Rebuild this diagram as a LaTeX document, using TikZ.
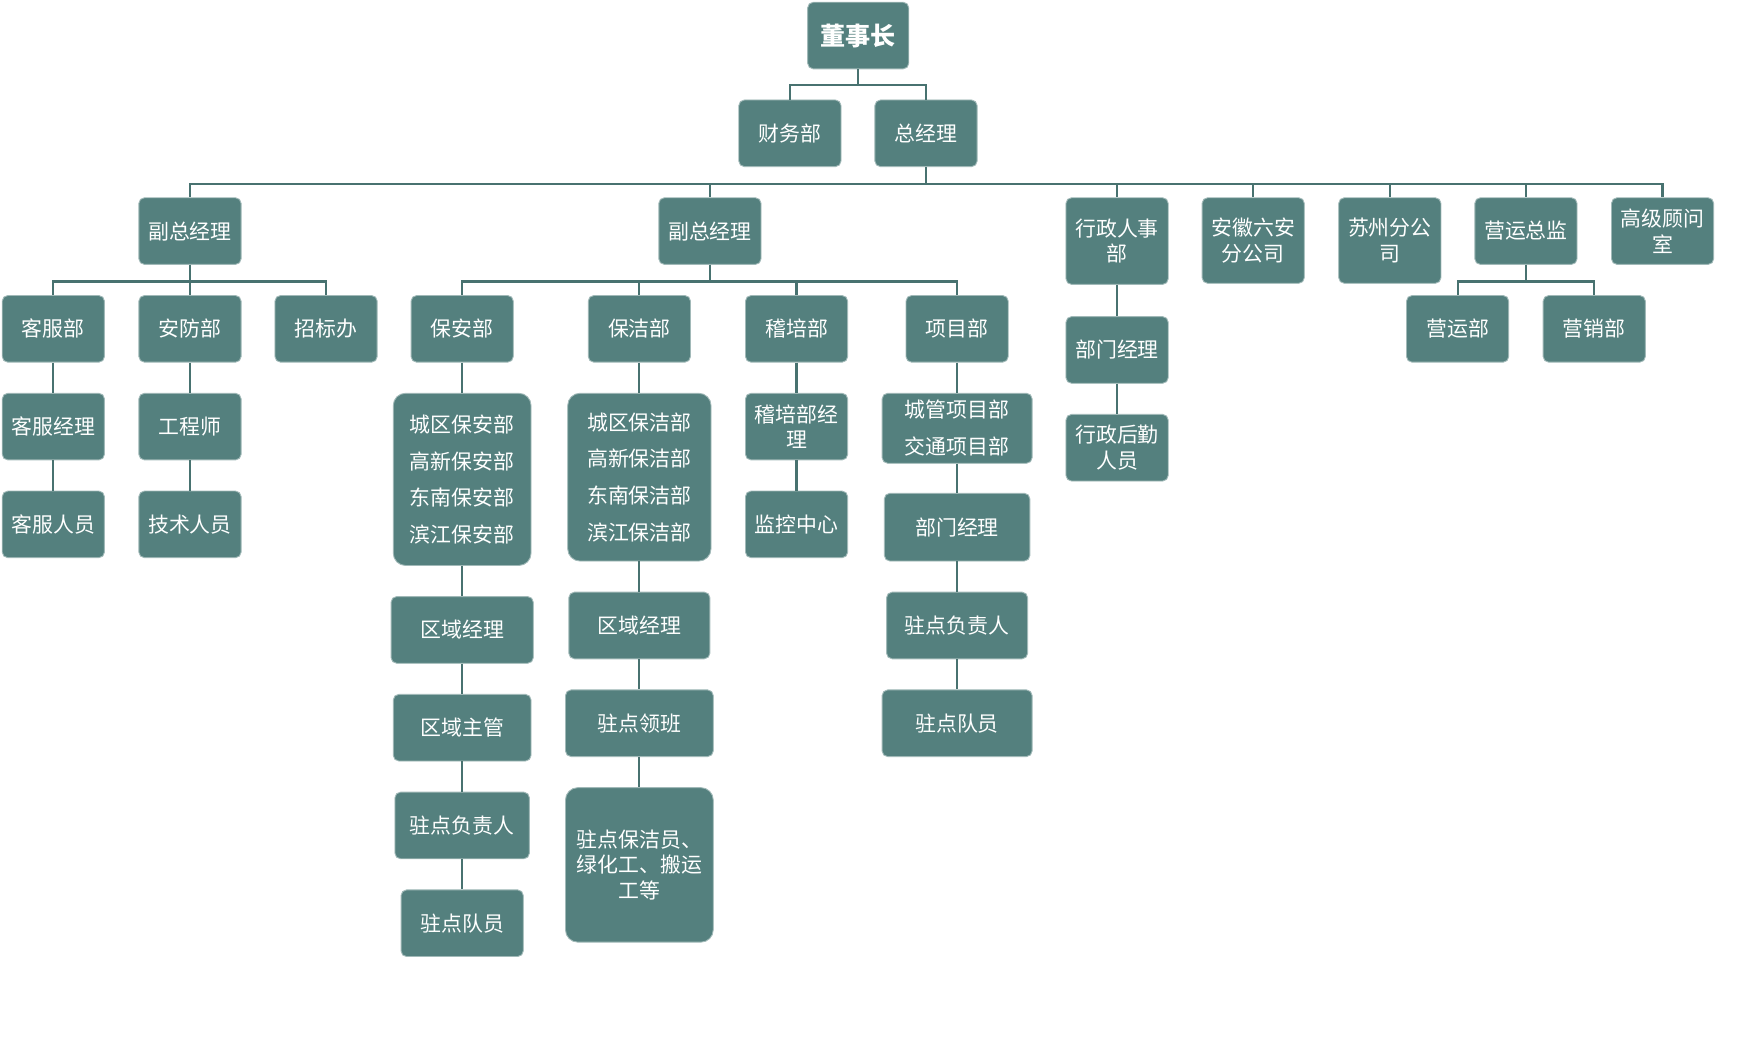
\documentclass[tikz,border=0pt]{standalone}
\usepackage{fontspec}
\newfontfamily\cjk{Noto Sans CJK SC}
\usetikzlibrary{calc}
\definecolor{boxfill}{RGB}{84,128,126}
\definecolor{linkcol}{RGB}{72,114,112}

\begin{document}
\begin{tikzpicture}[x=0.5pt,y=-0.5pt,
    box/.style={rectangle, rounded corners=2.5pt, fill=boxfill, draw=boxfill!55!white,
      line width=0.4pt, text=white, align=center, inner sep=0pt,
      minimum width=46pt, minimum height=30pt, font=\cjk\fontsize{9.4}{11.5}\selectfont},
    listbox/.style={box, rounded corners=5.5pt},
    link/.style={draw=linkcol, line width=1pt}]
  \useasboundingbox (0,0) rectangle (1568,936);
  % top
  \node[box, minimum width=45.5pt, font=\cjk\bfseries\fontsize{11.3}{13}\selectfont] (chair) at (772.5,32) {董事长};
  \node[box] (fin) at (711,120) {财务部};
  \node[box] (gm) at (833.5,120) {总经理};
  % second level
  \node[box] (vpa) at (171,208) {副总经理};
  \node[box] (vpb) at (639,208) {副总经理};
  \node[box, minimum height=39pt] (hr) at (1005.5,217) {行政人事\\部};
  \node[box, minimum height=38.5pt] (ah) at (1128,216.5) {安徽六安\\分公司};
  \node[box, minimum height=38.5pt] (sz) at (1251,216.5) {苏州分公\\司};
  \node[box] (ops) at (1373.5,208) {营运总监};
  \node[box] (adv) at (1496.5,208) {高级顾问\\室};
  % departments
  \node[box] (cs) at (48,296) {客服部};
  \node[box] (sec) at (171,296) {安防部};
  \node[box] (bid) at (293.5,296) {招标办};
  \node[box] (guard) at (416,296) {保安部};
  \node[box] (clean) at (575.5,296) {保洁部};
  \node[box] (audit) at (717,296) {稽培部};
  \node[box] (proj) at (861.5,296) {项目部};
  \node[box] (yy) at (1312,296) {营运部};
  \node[box] (yx) at (1435,296) {营销部};
  \node[box] (hrm) at (1005.5,315) {部门经理};
  \node[box] (hrs) at (1005.5,403) {行政后勤\\人员};
  % left columns
  \node[box] (csm) at (48,384) {客服经理};
  \node[box] (csp) at (48,472) {客服人员};
  \node[box] (eng) at (171,384) {工程师};
  \node[box] (tech) at (171,472) {技术人员};
  % guard column
  \node[listbox, minimum width=62pt, minimum height=77.5pt] (ga) at (416,431.5)
    {城区保安部\\[5pt]高新保安部\\[5pt]东南保安部\\[5pt]滨江保安部};
  \node[box, minimum width=64pt] (gb) at (416,567) {区域经理};
  \node[box, minimum width=62pt] (gc) at (416,655) {区域主管};
  \node[box, minimum width=60.5pt] (gd) at (416,743) {驻点负责人};
  \node[box, minimum width=55pt] (ge) at (416,831) {驻点队员};
  % clean column
  \node[listbox, minimum width=64.5pt, minimum height=75.5pt] (ca) at (575.5,429.5)
    {城区保洁部\\[5pt]高新保洁部\\[5pt]东南保洁部\\[5pt]滨江保洁部};
  \node[box, minimum width=63.5pt] (cb) at (575.5,563) {区域经理};
  \node[box, minimum width=66.5pt] (cc) at (575.5,651) {驻点领班};
  \node[listbox, minimum width=66.5pt, minimum height=69.5pt] (cd) at (575.5,778.5)
    {驻点保洁员、\\绿化工、搬运\\工等};
  % audit column
  \node[box] (am) at (717,384) {稽培部经\\理};
  \node[box] (mon) at (717,472) {监控中心};
  % project column
  \node[box, minimum width=67.5pt, minimum height=31.5pt] (pa) at (861.5,385.5)
    {城管项目部\\[5pt]交通项目部};
  \node[box, minimum width=65.5pt, minimum height=30.5pt] (pb) at (861.5,474.5) {部门经理};
  \node[box, minimum width=63.5pt] (pc) at (861.5,563) {驻点负责人};
  \node[box, minimum width=67.5pt] (pd) at (861.5,651) {驻点队员};

  % tree links
  \foreach \c in {fin,gm}
    \draw[link] (chair.south) -- ++(0,14) -| (\c.north);
  \foreach \c in {vpa,vpb,hr,ah,sz,ops,adv}
    \draw[link] (gm.south) -- ++(0,15) -| (\c.north);
  \foreach \c in {cs,sec,bid}
    \draw[link] (vpa.south) -- ++(0,15) -| (\c.north);
  \foreach \c in {guard,clean,audit,proj}
    \draw[link] (vpb.south) -- ++(0,15) -| (\c.north);
  \foreach \c in {yy,yx}
    \draw[link] (ops.south) -- ++(0,15) -| (\c.north);
  % chains
  \foreach \a/\b in {cs/csm,csm/csp,sec/eng,eng/tech,hr/hrm,hrm/hrs,
      guard/ga,ga/gb,gb/gc,gc/gd,gd/ge,clean/ca,ca/cb,cb/cc,cc/cd,
      audit/am,am/mon,proj/pa,pa/pb,pb/pc,pc/pd}
    \draw[link] (\a.south) -- (\b.north);
\end{tikzpicture}
\end{document}
